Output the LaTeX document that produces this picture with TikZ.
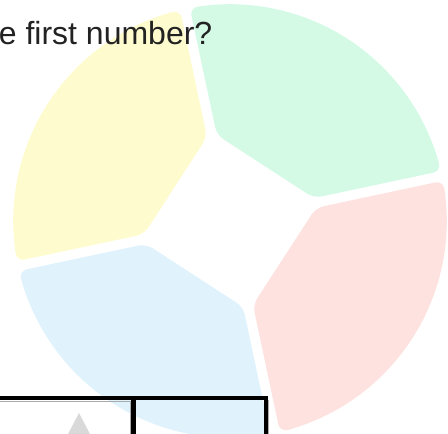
\documentclass[tikz,border=0pt]{standalone}
\usepackage{fontspec}
\setmainfont{Liberation Sans}
\definecolor{segyellow}{HTML}{FEFCCF}
\definecolor{seggreen}{HTML}{D4FAE6}
\definecolor{segred}{HTML}{FEE2DF}
\definecolor{segblue}{HTML}{E0F3FD}
\definecolor{txtdark}{HTML}{222222}
\definecolor{shadowgray}{HTML}{AAAAAA}
\definecolor{trigray}{HTML}{D9D9D9}
\newcommand\donutseg[2]{%
  \fill[#2, rounded corners=8pt] ({#1+3.29}:87) -- ({#1+1.32}:217)
    \foreach \i in {1,...,17} { -- ({#1+1.32+\i*4.8533}:217) }
    -- ({#1+88.68}:217) -- ({#1+86.71}:87) -- cycle;}
\begin{document}
\begin{tikzpicture}[x=1pt,y=1pt,
  blackline/.style={line width=4.5pt, draw=black, line cap=butt},
  shadowline/.style={line width=1pt, draw=shadowgray}]
\useasboundingbox (0,0) rectangle (448,434);
\clip (0,0) rectangle (448,434);
% donut
\begin{scope}[shift={(230,213)}]
  \donutseg{12}{seggreen}
  \donutseg{102}{segyellow}
  \donutseg{192}{segblue}
  \donutseg{282}{segred}
\end{scope}
% title (cut off, as in the reference)
\node[anchor=base east, inner sep=0pt, font=\fontsize{32}{38}\selectfont, text=txtdark] (title) at (212.5,389) {e first number?};
% bottom controls
\coordinate (hl) at (0,36);
\coordinate (hr) at (268,36);
\coordinate (v1t) at (133.5,36);
\coordinate (v1b) at (133.5,0);
\coordinate (v2t) at (265.75,38.25);
\coordinate (v2b) at (265.75,0);
\draw[shadowline] (0,32.5) -- (131,32.5);
\draw[shadowline] (130.8,32.5) -- (130.8,0);
\draw[shadowline] (268.5,34) -- (268.5,0);
\draw[blackline] (hl) -- (hr);
\draw[blackline] (v1t) -- (v1b);
\draw[blackline] (v2t) -- (v2b);
\fill[trigray] (79,21) -- (65.4,-5) -- (92.6,-5) -- cycle;
\end{tikzpicture}
\end{document}
